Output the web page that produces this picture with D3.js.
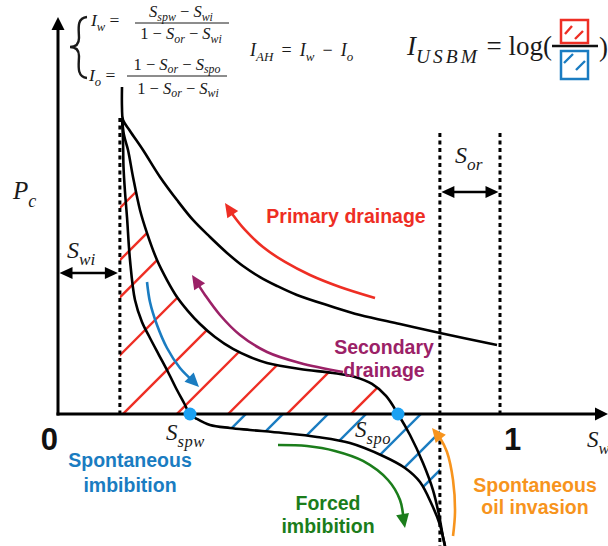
<!DOCTYPE html>
<html><head><meta charset="utf-8">
<script src="https://cdn.jsdelivr.net/npm/d3@7"></script>
<style>body{margin:0;background:#fff}svg{display:block}text{white-space:pre}</style>
</head><body>
<script>
// Saturation endpoints (fractions of pore volume)
const Swi = 0.14, Sor = 0.136;
const Sspw = 0.2986, Sspo = 0.7692;
const xTickValues = [0, 1];
const xTickLabels = ["0", "1"];

// Capillary pressure curves: [Sw, Pc] (Pc in arbitrary units)
const primaryDrainage = [[0.1448,2.973],[0.1448,2.782],[0.1471,2.673],[0.1629,2.573],[0.1923,2.4],[0.2308,2.155],[0.2692,1.945],[0.3054,1.764],[0.3439,1.609],[0.3824,1.464],[0.4186,1.345],[0.4570,1.245],[0.4955,1.164],[0.5407,1.082],[0.6154,0.982],[0.6833,0.9],[0.7738,0.818],[0.8643,0.736],[0.9932,0.627]];
const secondaryDrainage = [[0.1448,2.691],[0.1493,2.536],[0.1584,2.4],[0.1697,2.155],[0.1855,1.855],[0.2014,1.645],[0.2240,1.4],[0.2466,1.218],[0.2692,1.064],[0.2941,0.936],[0.3213,0.818],[0.3552,0.7],[0.3959,0.591],[0.4344,0.518],[0.4729,0.464],[0.5475,0.409],[0.6222,0.373],[0.6719,0.336],[0.7104,0.273],[0.7421,0.164],[0.7692,0],[0.7964,-0.191],[0.8258,-0.445],[0.8484,-0.691],[0.8620,-0.918],[0.8710,-1.118],[0.8756,-1.2]];
const imbibition = [[0.1448,2.691],[0.1471,2.491],[0.1482,2.245],[0.1516,2.018],[0.1561,1.791],[0.1629,1.4],[0.1742,1.036],[0.1900,0.836],[0.2081,0.691],[0.2285,0.536],[0.2489,0.382],[0.2692,0.218],[0.2851,0.1],[0.2986,0],[0.3145,-0.045],[0.3439,-0.1],[0.3891,-0.127],[0.4344,-0.145],[0.5090,-0.173],[0.5860,-0.209],[0.6606,-0.264],[0.7353,-0.382],[0.7851,-0.491],[0.8190,-0.618],[0.8462,-0.827],[0.8643,-1.009],[0.8710,-1.118],[0.8756,-1.2]];

// Hatching: Sw where each 45-degree hatch line crosses Pc = 0
const drainageHatch = [-0.326,-0.208,-0.124,0.007,0.147,0.269,0.385,0.518,0.663];
const imbibitionHatch = [0.425,0.509,0.611,0.697,0.821,0.905,0.991];

// Process arrows: [Sw, Pc]
const arrowPrimary = [[0.7172,1.055],[0.6380,1.155],[0.5701,1.264],[0.5136,1.382],[0.4638,1.518],[0.4231,1.673],[0.3959,1.809],[0.3778,1.918]];
const arrowSecondary = [[0.6448,0.382],[0.5475,0.464],[0.4729,0.564],[0.4118,0.718],[0.3665,0.9],[0.3326,1.082],[0.3032,1.264]];
const arrowSpontImb = [[0.2014,1.2],[0.2081,1.018],[0.2240,0.809],[0.2466,0.6],[0.2760,0.418],[0.3190,0.245]];
const arrowForcedImb = [[0.4977,-0.282],[0.5633,-0.291],[0.6267,-0.336],[0.6900,-0.427],[0.7466,-0.6],[0.7738,-0.782],[0.7851,-1.036]];
const arrowOilInv = [[0.8937,-1.109],[0.8982,-0.891],[0.8937,-0.6],[0.8801,-0.345],[0.8643,-0.218],[0.8462,-0.127]];

const W = 608, H = 546;
const RED = "#ee2e24", PURPLE = "#9b2167", BLUE = "#1a7cc1", GREEN = "#1b7d1b", ORANGE = "#f7941d", DOT = "#1ba1f2";
const SERIF = "'Liberation Serif','DejaVu Serif',serif";
const SANS = "'Liberation Sans',Arial,sans-serif";

const x = d3.scaleLinear().domain([0, 1]).range([58, 500]);
const y = d3.scaleLinear().domain([-1.2, 3.6]).range([546, 18]);

const svg = d3.select("body").append("svg").attr("width", W).attr("height", H);
const defs = svg.append("defs");
const line = d3.line().x(d => x(d[0])).y(d => y(d[1])).curve(d3.curveCatmullRom.alpha(0.5));

// --- hatched regions ---
const upperSec = secondaryDrainage.filter(d => d[1] >= 0);
const lowerImb = imbibition.filter(d => d[1] <= 0 && d[0] <= 1 - Sor + 0.001);
defs.append("clipPath").attr("id", "clipRed").append("path")
  .attr("d", `M${x(Swi)},${y(0)}L${x(Swi)},${y(upperSec[0][1])}` + line(upperSec).replace(/^M/, "L") + "Z");
const lastImb = lowerImb[lowerImb.length - 1];
defs.append("clipPath").attr("id", "clipBlue").append("path")
  .attr("d", line(lowerImb) + `L${x(1 - Sor)},${y(lastImb[1])}L${x(1 - Sor)},${y(0)}Z`);

function hatch(values, clip, color) {
  const g = svg.append("g").attr("clip-path", `url(#${clip})`);
  g.selectAll("line").data(values).join("line")
    .attr("x1", d => x(d) - 400).attr("y1", y(0) + 400)
    .attr("x2", d => x(d) + 400).attr("y2", y(0) - 400)
    .attr("stroke", color).attr("stroke-width", 2.4);
}
hatch(drainageHatch, "clipRed", RED);
hatch(imbibitionHatch, "clipBlue", BLUE);

// --- reference saturation lines ---
const dash = "4,3.5";
svg.append("line").attr("x1", x(Swi)).attr("x2", x(Swi)).attr("y1", y(2.69)).attr("y2", y(0))
  .attr("stroke", "#000").attr("stroke-width", 3).attr("stroke-dasharray", dash);
svg.append("line").attr("x1", x(1 - Sor)).attr("x2", x(1 - Sor)).attr("y1", y(2.555)).attr("y2", H)
  .attr("stroke", "#000").attr("stroke-width", 3).attr("stroke-dasharray", dash);
svg.append("line").attr("x1", x(1)).attr("x2", x(1)).attr("y1", y(2.555)).attr("y2", y(0))
  .attr("stroke", "#000").attr("stroke-width", 3).attr("stroke-dasharray", dash);

// --- curves ---
[primaryDrainage, secondaryDrainage, imbibition].forEach(c =>
  svg.append("path").attr("d", line(c)).attr("fill", "none").attr("stroke", "#000").attr("stroke-width", 2.6));

// --- axes ---
function head(x0, y0, ang, len, half, color) {
  const c = Math.cos(ang), s = Math.sin(ang);
  const bx = x0 - c * len, by = y0 - s * len;
  svg.append("path").attr("d", `M${x0},${y0}L${bx - s * half},${by + c * half}L${bx + s * half},${by - c * half}Z`).attr("fill", color);
}
svg.append("line").attr("x1", x(0)).attr("x2", x(0)).attr("y1", y(0) + 1.5).attr("y2", 28).attr("stroke", "#000").attr("stroke-width", 3);
head(x(0), 17, -Math.PI / 2, 13, 6.5, "#000");
svg.append("line").attr("x1", x(0) - 1.5).attr("x2", 596).attr("y1", y(0)).attr("y2", y(0)).attr("stroke", "#000").attr("stroke-width", 3);
head(608, y(0), 0, 13, 6.5, "#000");

// tick labels
svg.selectAll(".tick").data(xTickValues).join("text")
  .attr("x", (d, i) => i === 0 ? x(d) : x(d) + 4)
  .attr("y", y(0) + 36).attr("text-anchor", (d, i) => i === 0 ? "end" : "start")
  .attr("font-family", SANS).attr("font-weight", "bold").attr("font-size", 31).attr("fill", "#111")
  .text((d, i) => xTickLabels[i]);

// --- math labels ---
function math(px, py, size, parts, anchor, subSpacing, subDrop) {
  const t = svg.append("text").attr("x", px).attr("y", py).attr("font-family", SERIF)
    .attr("font-size", size).attr("fill", "#1a1a1a").attr("text-anchor", anchor || "start");
  let shift = 0;
  parts.forEach(([s, k]) => {
    const sp = t.append("tspan").text(s);
    const target = k === "s" ? size * (subDrop || 0.3) : 0;
    if (target !== shift) { sp.attr("dy", target - shift); shift = target; }
    if (k === "s") {
      sp.attr("font-size", size * 0.72).attr("font-style", "italic");
      if (subSpacing) sp.attr("letter-spacing", subSpacing);
    }
    else if (k === "i") sp.attr("font-style", "italic");
  });
  return t;
}
math(13, 199, 25, [["P","i"],["c","s"]]);
math(67, 258, 24, [["S","i"],["wi","s"]]);
math(455, 163, 24, [["S","i"],["or","s"]]);
math(166, 440, 23, [["S","i"],["spw","s"]], null, 0.5);
math(355, 437, 23, [["S","i"],["spo","s"]], null, 0.5);
math(587, 447, 23, [["S","i"],["w","s"]]);

// double arrows for Swi and Sor
function dbl(x1, x2, py) {
  svg.append("line").attr("x1", x1 + 8).attr("x2", x2 - 8).attr("y1", py).attr("y2", py).attr("stroke", "#000").attr("stroke-width", 2.6);
  head(x1, py, Math.PI, 13, 6, "#000");
  head(x2, py, 0, 13, 6, "#000");
}
dbl(x(0) + 1.5, x(Swi) - 2, y(1.282));
dbl(x(1 - Sor) + 1.5, x(1) - 1.5, y(2.018));

// spontaneous saturation points
svg.selectAll(".pt").data([Sspw, Sspo]).join("circle")
  .attr("cx", d => x(d)).attr("cy", y(0)).attr("r", 6.5).attr("fill", DOT);

// --- process arrows ---
function arrow(pts, color) {
  const p = pts.map(d => [x(d[0]), y(d[1])]);
  const n = p.length, tip = p[n - 1], prev = p[n - 2];
  const ang = Math.atan2(tip[1] - prev[1], tip[0] - prev[0]);
  const shaft = pts.slice(0, n - 1).concat([[x.invert(tip[0] - Math.cos(ang) * 8), y.invert(tip[1] - Math.sin(ang) * 8)]]);
  svg.append("path").attr("d", line(shaft)).attr("fill", "none").attr("stroke", color).attr("stroke-width", 2.6);
  head(tip[0], tip[1], ang, 14, 6.5, color);
}
arrow(arrowPrimary, RED);
arrow(arrowSecondary, PURPLE);
arrow(arrowSpontImb, BLUE);
arrow(arrowForcedImb, GREEN);
arrow(arrowOilInv, ORANGE);

// process labels
function label(lines, cx, py, gap, color) {
  const t = svg.append("text").attr("font-family", SANS).attr("font-weight", "bold").attr("font-size", 19.5)
    .attr("fill", color).attr("text-anchor", "middle");
  lines.forEach((s, i) => t.append("tspan").attr("x", cx).attr("y", py + i * gap).text(s));
}
label(["Primary drainage"], 346, 223, 0, RED);
label(["Secondary", "drainage"], 384, 354, 23, PURPLE);
label(["Spontaneous", "imbibition"], 130, 467, 25, BLUE);
label(["Forced", "imbibition"], 328, 510, 23, GREEN);
label(["Spontaneous", "oil invasion"], 535, 492, 22, ORANGE);

// --- wettability indices ---
svg.append("path").attr("d", "M87,17 C76,18 79,30 79,38 C79,44 76,47 70,47 C76,47 79,50 79,56 C79,64 76,77 87,78")
  .attr("fill", "none").attr("stroke", "#1a1a1a").attr("stroke-width", 2.4);
math(91, 26, 17.5, [["I","i"],["w","s"],[" =","r"]]);
math(181, 17, 16.5, [["S","i"],["spw","s"],[" − ","r"],["S","i"],["wi","s"]], "middle", 0, 0.22);
svg.append("line").attr("x1", 135).attr("x2", 229).attr("y1", 23).attr("y2", 23).attr("stroke", "#1a1a1a").attr("stroke-width", 1);
math(181, 39, 16.5, [["1 − ","r"],["S","i"],["or","s"],[" − ","r"],["S","i"],["wi","s"]], "middle", 0, 0.22);

math(89, 81, 17.5, [["I","i"],["o","s"],[" =","r"]]);
math(177, 69.5, 16.5, [["1 − ","r"],["S","i"],["or","s"],[" − ","r"],["S","i"],["spo","s"]], "middle", 0, 0.22);
svg.append("line").attr("x1", 127).attr("x2", 227).attr("y1", 76).attr("y2", 76).attr("stroke", "#1a1a1a").attr("stroke-width", 1);
math(178, 93.5, 16.5, [["1 − ","r"],["S","i"],["or","s"],[" − ","r"],["S","i"],["wi","s"]], "middle", 0, 0.22);

math(250, 56, 18, [["I","i"],["AH","s"],[" \u2009=\u2009 ","r"],["I","i"],["w","s"],[" \u2009−\u2009 ","r"],["I","i"],["o","s"]]);

math(407, 55, 27, [["I","i"],["USBM","s"],[" = log(","r"]], null, 3);
svg.append("line").attr("x1", 552).attr("x2", 598).attr("y1", 46).attr("y2", 46).attr("stroke", "#111").attr("stroke-width", 2.5);
svg.append("rect").attr("x", 561).attr("y", 20).attr("width", 27).attr("height", 23).attr("fill", "none").attr("stroke", RED).attr("stroke-width", 2.5);
svg.append("path").attr("d", "M565,34L572,26M575,39L583,31").attr("stroke", RED).attr("stroke-width", 2.4);
svg.append("rect").attr("x", 561).attr("y", 51).attr("width", 27).attr("height", 28).attr("fill", "none").attr("stroke", BLUE).attr("stroke-width", 2.5);
svg.append("path").attr("d", "M564,63L573,54M576,70L585,61").attr("stroke", BLUE).attr("stroke-width", 2.4);
math(599, 56, 27, [[")","r"]]);
</script>
</body></html>
